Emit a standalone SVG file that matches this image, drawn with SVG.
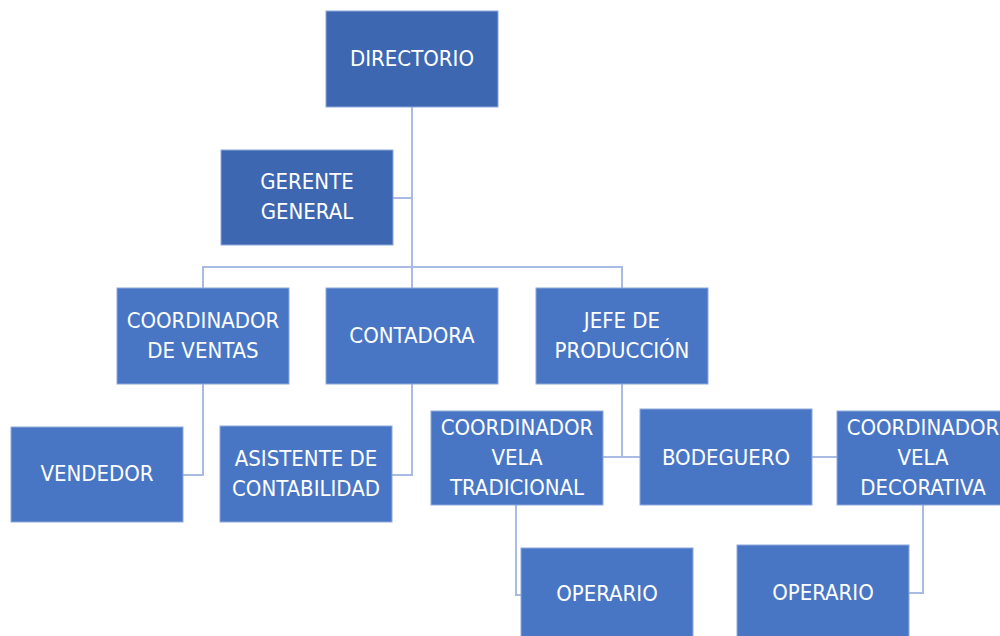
<svg xmlns="http://www.w3.org/2000/svg" width="1000" height="636" viewBox="0 0 1000 636">
  <style>
    .box { fill: #4876c5; stroke: #8ea8dc; stroke-width: 1; }
    .box.top { fill: #3d67b1; }
    .lbl { font-family: "Liberation Sans Narrow", "DejaVu Sans Condensed", "Liberation Sans", sans-serif; font-size: 22px; fill: #ffffff; text-anchor: middle; }
    .conn { fill: none; stroke: #a9bbe2; stroke-width: 2; }
  </style>
  <rect width="1000" height="636" fill="#ffffff"/>

  <g id="connectors">
    <path class="conn" d="M412,107 V267"/>
    <path class="conn" d="M393,198 H412"/>
    <path class="conn" d="M203,288 V267 H622 V288"/>
    <path class="conn" d="M412,267 V288"/>
    <path class="conn" d="M203,384 V475 H183"/>
    <path class="conn" d="M412,384 V475 H392"/>
    <path class="conn" d="M622,384 V457"/>
    <path class="conn" d="M603,457 H640"/>
    <path class="conn" d="M812,457 H837"/>
    <path class="conn" d="M516,505 V595 H521"/>
    <path class="conn" d="M923,505 V593 H909"/>
  </g>

  <g id="directorio">
    <rect class="box top" x="326" y="11" width="172" height="96"/>
    <text class="lbl" x="412" y="66">DIRECTORIO</text>
  </g>
  <g id="gerente-general">
    <rect class="box top" x="221" y="150" width="172" height="95"/>
    <text class="lbl" x="307" y="189">GERENTE</text>
    <text class="lbl" x="307" y="219">GENERAL</text>
  </g>
  <g id="coordinador-ventas">
    <rect class="box" x="117" y="288" width="172" height="96"/>
    <text class="lbl" x="203" y="328">COORDINADOR</text>
    <text class="lbl" x="203" y="358">DE VENTAS</text>
  </g>
  <g id="contadora">
    <rect class="box" x="326" y="288" width="172" height="96"/>
    <text class="lbl" x="412" y="343">CONTADORA</text>
  </g>
  <g id="jefe-produccion">
    <rect class="box" x="536" y="288" width="172" height="96"/>
    <text class="lbl" x="622" y="328">JEFE DE</text>
    <text class="lbl" x="622" y="358">PRODUCCIÓN</text>
  </g>
  <g id="vendedor">
    <rect class="box" x="11" y="427" width="172" height="95"/>
    <text class="lbl" x="97" y="481">VENDEDOR</text>
  </g>
  <g id="asistente-contabilidad">
    <rect class="box" x="220" y="426" width="172" height="96"/>
    <text class="lbl" x="306" y="466">ASISTENTE DE</text>
    <text class="lbl" x="306" y="496">CONTABILIDAD</text>
  </g>
  <g id="coordinador-vela-tradicional">
    <rect class="box" x="431" y="411" width="172" height="94"/>
    <text class="lbl" x="517" y="435">COORDINADOR</text>
    <text class="lbl" x="517" y="465">VELA</text>
    <text class="lbl" x="517" y="495">TRADICIONAL</text>
  </g>
  <g id="bodeguero">
    <rect class="box" x="640" y="409" width="172" height="96"/>
    <text class="lbl" x="726" y="465">BODEGUERO</text>
  </g>
  <g id="coordinador-vela-decorativa">
    <rect class="box" x="837" y="411" width="172" height="94"/>
    <text class="lbl" x="923" y="435">COORDINADOR</text>
    <text class="lbl" x="923" y="465">VELA</text>
    <text class="lbl" x="923" y="495">DECORATIVA</text>
  </g>
  <g id="operario-tradicional">
    <rect class="box" x="521" y="548" width="172" height="96"/>
    <text class="lbl" x="607" y="601">OPERARIO</text>
  </g>
  <g id="operario-decorativa">
    <rect class="box" x="737" y="545" width="172" height="96"/>
    <text class="lbl" x="823" y="600">OPERARIO</text>
  </g>
</svg>
